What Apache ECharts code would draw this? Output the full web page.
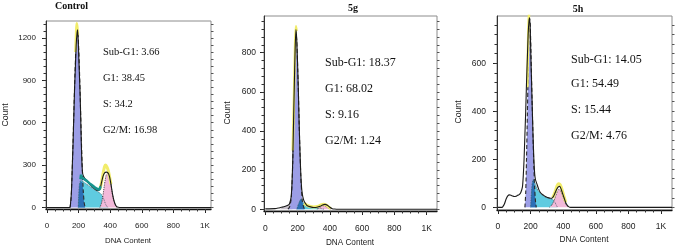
<!DOCTYPE html>
<html><head><meta charset="utf-8">
<script src="https://cdn.jsdelivr.net/npm/echarts@6/dist/echarts.min.js"></script>
<style>html,body{margin:0;padding:0;background:#fff}#c{width:678px;height:249px}</style>
</head><body><div id="c"></div>
<script>
// ---------- Control ----------
const ctrlDataX = [0,140,146,150,155,160,165,170,175,180,185,190,194,198,202,206,210,214,218,222,226,230,240,260,280,300,320,335,345,355,365,375,385,395,405,415,425,435,445,460,1038];
const ctrlDataY = [0,0,0,40,110,280,450,650,850,1000,1150,1230,1257,1180,1050,920,800,620,430,300,240,225,205,178,152,132,118,128,175,222,245,250,246,222,165,95,45,15,3,0,0];
const ctrlNoisyX = [212,216,220,224,228,232,236,240,244,248,252,256,260,264,268,272,276,280,284,288,292,296,300,304,308,312,316,320,324,328,332,336,340];
const ctrlNoisyY = [200,232,212,226,204,218,200,214,194,206,188,200,180,192,172,186,166,176,158,170,150,162,144,156,138,150,132,146,128,140,126,138,150];
const ctrlG1X = [146,152,158,164,170,176,182,188,194,200,206,212,218,224,230,236,242];
const ctrlG1Y = [0,50,200,420,660,900,1100,1230,1260,1150,960,720,470,260,110,30,0];
const ctrlSX = [198,205,215,230,250,270,290,310,330,345,360,372,385];
const ctrlSY = [0,160,192,182,166,150,134,120,106,92,58,20,0];
const ctrlOvX = [198,205,215,224,230,236,242];
const ctrlOvY = [0,160,185,175,110,30,0];
const ctrlG2X = [335,345,355,365,375,385,395,405,415,425,435,445];
const ctrlG2Y = [0,30,90,170,230,242,220,160,90,40,10,0];
const ctrlFitAX = [180,185,188,192,196];
const ctrlFitAY = [1100,1250,1304,1280,1220];
const ctrlFitBX = [335,345,355,365,372,380,388,395,405];
const ctrlFitBY = [130,175,240,290,300,285,260,225,165];

// ---------- 5g ----------
const g5DataX = [0,60,80,100,120,140,150,160,165,170,175,180,185,190,195,200,205,210,215,220,225,230,235,240,250,260,280,300,320,340,355,370,385,400,415,430,450,1064];
const g5DataY = [2,3,6,10,14,20,28,62,125,245,440,640,820,918,865,745,605,435,295,180,110,75,55,42,28,18,12,9,10,15,22,25,20,10,3,1,0,0];
const g5SubX = [90,110,130,145,155,162,168];
const g5SubY = [0,12,18,24,30,36,0];
const g5G1X = [140,150,160,165,170,175,180,185,190,195,200,205,210,215,220,225,230,238,245];
const g5G1Y = [0,10,50,115,235,430,630,810,905,860,740,600,430,290,170,90,40,10,0];
const g5SX = [195,205,215,222,230,240,250,270,300,330,350,365];
const g5SY = [0,25,45,52,42,28,18,12,9,7,3,0];
const g5OvX = [195,205,215,222,230,236,242];
const g5OvY = [0,25,45,52,40,18,0];
const g5G2X = [320,335,350,360,370,385,400,410];
const g5G2Y = [0,8,16,18,16,9,3,0];
const g5FitAX = [170,178,185,190,194];
const g5FitAY = [300,580,850,935,910];
const g5FitBX = [240,260,280,300,330,345,360,375,390,405];
const g5FitBY = [30,20,14,12,16,22,26,23,13,3];

// ---------- 5h ----------
const h5DataX = [0,25,30,40,50,60,70,80,90,100,110,120,130,140,150,155,160,165,170,175,180,185,190,194,198,202,206,210,215,220,225,230,240,250,260,270,280,290,300,310,320,330,340,350,360,370,378,385,395,405,415,425,435,445,1067];
const h5DataY = [0,0,3,15,35,48,52,50,47,45,46,50,53,62,85,130,200,300,400,520,620,720,775,790,740,620,520,420,300,200,140,115,95,75,62,55,50,45,42,40,38,38,45,60,75,85,88,80,60,40,20,8,2,0,0];
const h5G1X = [165,170,175,180,185,190,194,198,202,206,210,215,220,225,230,235];
const h5G1Y = [0,60,200,380,560,720,790,760,650,530,420,290,170,80,25,0];
const h5SX = [200,205,210,217,225,235,245,257,270,285,300,320,335,350,360,366];
const h5SY = [0,60,100,116,105,85,70,61,52,45,40,36,34,20,6,0];
const h5OvX = [200,205,210,217,221,225,230,235];
const h5OvY = [0,60,100,116,110,80,25,0];
const h5G2X = [315,330,345,355,365,374,385,395,405,415,425,433];
const h5G2Y = [0,10,30,50,68,75,68,50,30,14,5,0];
const h5FitAX = [180,185,190,195];
const h5FitAY = [500,700,800,820];
const h5FitBX = [335,345,355,362,370,378,386,395,405,415];
const h5FitBY = [40,55,75,90,98,97,88,68,45,22];

// ---------- axes / labels ----------
const titles = ['Control','5g','5h'];
const phaseLabels = [
  ['Sub-G1: 3.66','G1: 38.45','S: 34.2','G2/M: 16.98'],
  ['Sub-G1: 18.37','G1: 68.02','S: 9.16','G2/M: 1.24'],
  ['Sub-G1: 14.05','G1: 54.49','S: 15.44','G2/M: 4.76']
];
const xTickLabels = [0,200,400,600,800,1000];
const yTicks = [[0,300,600,900,1200],[0,200,400,600,800],[0,200,400,600]];

// ---------- layout ----------
const grids = [
  {left:46, top:21, width:165, height:188, xmin:-6, xmax:1038, ymin:-11, ymax:1320, yMinorStep:50, yMinorMax:1300, fs:8, ym:10, xm:13},
  {left:264, top:16, width:173, height:195, xmin:-8, xmax:1064, ymin:-9, ymax:987, yMinorStep:40, yMinorMax:960, fs:8.5, ym:8, xm:13},
  {left:497, top:16, width:175, height:194, xmin:-6, xmax:1067, ymin:-11, ymax:797, yMinorStep:40, yMinorMax:760, fs:8.5, ym:11, xm:12.5}
];
const C = {g1:'#9c9ee6', s:'#5fcbe0', ov:'#2b6fb6', g2:'#f2b9d9', fit:'#f1ec6a', sub:'#c9c2cc', teal:'#17948f'};

function pairs(xs, ys){ return xs.map((x,i)=>[x,ys[i]]); }
function range(a,b,s){ const r=[]; for(let v=a; v<=b+1e-9; v+=s) r.push(v); return r; }
const fmt = v => v >= 1000 ? '1K' : String(v);

const option = {animation:false, grid:[], xAxis:[], yAxis:[], series:[], graphic:[]};
const axFont = {fontFamily:'Liberation Sans', color:'#222'};

grids.forEach((g,i)=>{
  option.grid.push({left:g.left, top:g.top, width:g.width, height:g.height, show:true, borderColor:'#8c8c8c', borderWidth:1, containLabel:false});
  const xi = option.xAxis.length, yi = option.yAxis.length;
  const xMajor = xTickLabels;
  option.xAxis.push({type:'value', gridIndex:i, min:g.xmin, max:g.xmax, position:'bottom',
    axisLine:{show:true, onZero:false, lineStyle:{color:'#111', width:1.3}},
    axisTick:{show:true, length:4, customValues:xMajor, lineStyle:{color:'#222'}},
    axisLabel:{show:true, customValues:xMajor, formatter:fmt, fontSize:g.fs, margin:g.xm, ...axFont},
    splitLine:{show:false}});
  option.xAxis.push({type:'value', gridIndex:i, min:g.xmin, max:g.xmax, position:'bottom',
    axisLine:{show:false, onZero:false}, axisLabel:{show:false},
    axisTick:{show:true, length:2.5, customValues:range(0,1000,50), lineStyle:{color:'#333'}},
    splitLine:{show:false}});
  option.yAxis.push({type:'value', gridIndex:i, min:g.ymin, max:g.ymax, position:'left',
    axisLine:{show:true, onZero:false, lineStyle:{color:'#333', width:1}},
    axisTick:{show:true, length:4, customValues:yTicks[i], lineStyle:{color:'#222'}},
    axisLabel:{show:true, customValues:yTicks[i], formatter:v=>String(v), fontSize:g.fs, margin:g.ym, ...axFont},
    splitLine:{show:false}});
  option.yAxis.push({type:'value', gridIndex:i, min:g.ymin, max:g.ymax, position:'left',
    axisLine:{show:false, onZero:false}, axisLabel:{show:false},
    axisTick:{show:true, length:2.5, customValues:range(0,g.yMinorMax,g.yMinorStep), lineStyle:{color:'#333'}},
    splitLine:{show:false}});
  option.yAxis.push({type:'value', gridIndex:i, min:g.ymin, max:g.ymax, position:'right',
    axisLine:{show:false, onZero:false}, axisLabel:{show:false},
    axisTick:{show:true, length:2.5, customValues:range(0,g.yMinorMax,g.yMinorStep), lineStyle:{color:'#555'}},
    splitLine:{show:false}});

  const sets = [
    {sub: null, g1:[ctrlG1X,ctrlG1Y], s:[ctrlSX,ctrlSY], ov:[ctrlOvX,ctrlOvY], g2:[ctrlG2X,ctrlG2Y], fa:[ctrlFitAX,ctrlFitAY], fb:[ctrlFitBX,ctrlFitBY], d:[ctrlDataX,ctrlDataY], n:[ctrlNoisyX,ctrlNoisyY]},
    {sub:[g5SubX,g5SubY], g1:[g5G1X,g5G1Y], s:[g5SX,g5SY], ov:[g5OvX,g5OvY], g2:[g5G2X,g5G2Y], fa:[g5FitAX,g5FitAY], fb:[g5FitBX,g5FitBY], d:[g5DataX,g5DataY], n:null},
    {sub:null, g1:[h5G1X,h5G1Y], s:[h5SX,h5SY], ov:[h5OvX,h5OvY], g2:[h5G2X,h5G2Y], fa:[h5FitAX,h5FitAY], fb:[h5FitBX,h5FitBY], d:[h5DataX,h5DataY], n:null}
  ][i];
  const base = {type:'line', xAxisIndex:xi, yAxisIndex:yi, showSymbol:false, symbol:'none', silent:true, clip:true, smooth:0.2};
  const area = (name, d, fill, ls) => ({...base, name, data:pairs(d[0],d[1]), areaStyle:{color:fill, opacity:1}, lineStyle:ls});
  if (sets.sub) option.series.push(area('Sub-G1', sets.sub, C.sub, {width:0}));
  option.series.push(area('G1', sets.g1, C.g1, {color:'#2a2a2a', width:1.1, type:[4,2.5]}));
  option.series.push(area('S', sets.s, C.s, {color:'#3a5560', width:0.8, type:'dotted'}));
  option.series.push(area('G1/S', sets.ov, C.ov, {width:0}));
  option.series.push(area('G2/M', sets.g2, C.g2, {color:'#333', width:0.9, type:'dotted'}));
  option.series.push({...base, name:'fitA', data:pairs(sets.fa[0],sets.fa[1]), lineStyle:{color:C.fit, width:2.5}});
  option.series.push({...base, name:'fitB', data:pairs(sets.fb[0],sets.fb[1]), lineStyle:{color:C.fit, width:3}});
  option.series.push({...base, name:'data', data:pairs(sets.d[0],sets.d[1]), lineStyle:{color:'#1a1a1a', width:1.1}});
  if (sets.n) option.series.push({...base, smooth:false, name:'noisy', data:pairs(sets.n[0],sets.n[1]), lineStyle:{color:C.teal, width:2.6}});
});

// texts
const titlePos = [[55,6,'left'],[353,8,'center'],[578,9,'center']];
titlePos.forEach((p,i)=>option.graphic.push({type:'text', style:{text:titles[i], x:p[0], y:p[1], textAlign:p[2], textVerticalAlign:'middle', font:'bold 10px "Liberation Serif"', fill:'#111'}}));
const annot = [
  {x:103, ys:[52,78,104,130], fs:10.5},
  {x:325, ys:[63,89,115,141], fs:12},
  {x:571, ys:[60,84,110,136], fs:12}
];
annot.forEach((a,i)=>a.ys.forEach((y,j)=>option.graphic.push({type:'text', style:{text:phaseLabels[i][j], x:a.x, y:y, textAlign:'left', textVerticalAlign:'middle', font:a.fs+'px "Liberation Serif"', fill:'#111'}})));
const xNamePos = [[128,241,7.8],[350,243,8.2],[584,240,8.3]];
xNamePos.forEach(p=>option.graphic.push({type:'text', style:{text:'DNA Content', x:p[0], y:p[1], textAlign:'center', textVerticalAlign:'middle', font:p[2]+'px "Liberation Sans"', fill:'#222'}}));
const yNamePos = [[6,115],[228,113],[459,112]];
yNamePos.forEach(p=>option.graphic.push({type:'text', x:p[0], y:p[1], rotation:Math.PI/2, style:{text:'Count', x:0, y:0, textAlign:'center', textVerticalAlign:'middle', font:'8.7px "Liberation Sans"', fill:'#222'}}));

const chart = echarts.init(document.getElementById('c'), null, {renderer:'canvas'});
chart.setOption(option);
</script></body></html>
